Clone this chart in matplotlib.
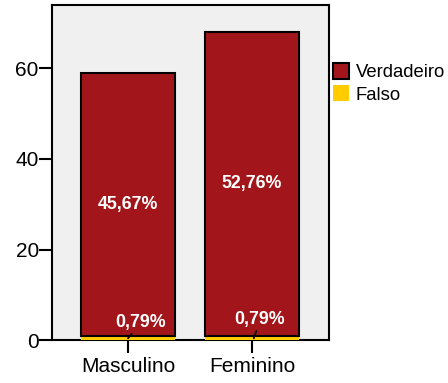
import matplotlib.pyplot as plt
import numpy as np

# data (counts, n = 127)
categories = ['Masculino', 'Feminino']
falso = [1, 1]
verdadeiro = [58, 67]
falso_pct = ['0,79%', '0,79%']
verdadeiro_pct = ['45,67%', '52,76%']

plt.rcParams['font.family'] = ['Liberation Sans', 'DejaVu Sans']

fig = plt.figure(figsize=(4.48, 3.83), dpi=100)
ax = fig.add_axes([0.116, 0.112, 0.618, 0.875])
ax.set_facecolor('#F0F0F0')

x = np.arange(len(categories))
w = 0.76
red = '#A2161B'
yellow = '#FFCC00'

b_f = ax.bar(x, falso, w, color=yellow, edgecolor='none', label='Falso', zorder=3)
b_v = ax.bar(x, verdadeiro, w, bottom=falso, color=red, edgecolor='black',
             linewidth=1.5, label='Verdadeiro', zorder=3)

# percentage labels
for i in range(len(categories)):
    ax.text(x[i], falso[i] + verdadeiro[i] / 2, verdadeiro_pct[i], color='white',
            fontsize=12.8, fontweight='bold', ha='center', va='center', zorder=5)

# small labels for the thin Falso segments with leader lines
ax.annotate(falso_pct[0], xy=(x[0], falso[0] * 0.4), xytext=(x[0] + 0.105, 3.9),
            color='white', fontsize=12.8, fontweight='bold', ha='center', va='center',
            arrowprops=dict(arrowstyle='-', color='black', lw=1.3,
                            shrinkA=0, shrinkB=0), zorder=5)
ax.annotate(falso_pct[1], xy=(x[1] + 0.015, falso[1] * 0.4), xytext=(x[1] + 0.065, 4.5),
            color='white', fontsize=12.8, fontweight='bold', ha='center', va='center',
            arrowprops=dict(arrowstyle='-', color='black', lw=1.3,
                            shrinkA=0, shrinkB=0), zorder=5)

ax.set_xlim(-0.613, 1.62)
ax.set_ylim(0, 74)
ax.set_xticks(x)
ax.set_xticklabels(categories)
ax.set_yticks([0, 20, 40, 60])
ax.tick_params(axis='both', direction='out', length=9.5, width=1.5,
               labelsize=15, pad=0, color='black')
ax.tick_params(axis='x', pad=3)

for s in ax.spines.values():
    s.set_linewidth(1.5)
    s.set_color('black')

handles = [b_v, b_f]
ax.legend(handles, ['Verdadeiro', 'Falso'], loc='upper left',
          bbox_to_anchor=(0.99, 0.85), frameon=False, fontsize=13.3,
          handlelength=0.85, handleheight=1.0, handletextpad=0.35,
          labelspacing=0.2, borderaxespad=0.0)

fig.savefig('out.png', dpi=100)
